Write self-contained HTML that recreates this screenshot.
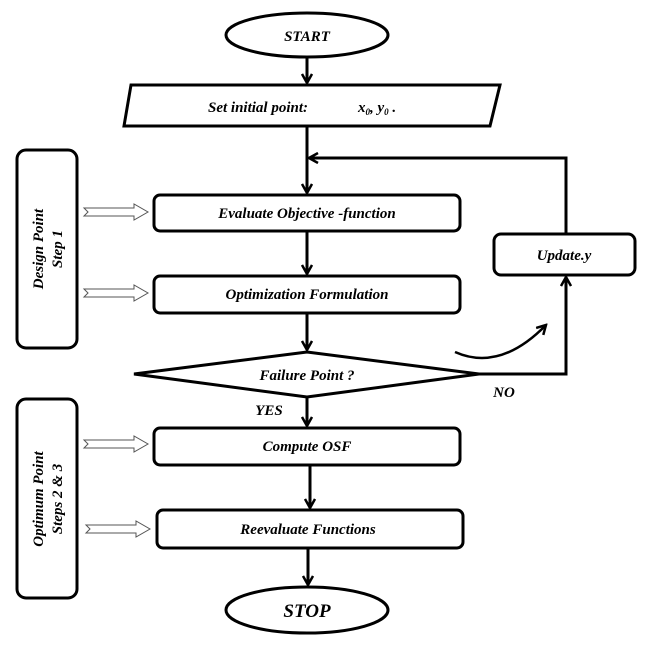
<!DOCTYPE html>
<html><head><meta charset="utf-8"><style>
body{margin:0;background:#fff}
svg{display:block}
text{font-family:"Liberation Serif",serif;font-weight:bold;font-style:italic;fill:#000}
</style></head><body>
<svg width="647" height="647" viewBox="0 0 647 647" xmlns="http://www.w3.org/2000/svg">
<defs>
<marker id="a" markerWidth="12" markerHeight="12" refX="10" refY="6" orient="auto" markerUnits="userSpaceOnUse">
<path d="M1,1 L10,6 L1,11" fill="none" stroke="#000" stroke-width="2.5"/>
</marker>
<g id="ha"><path d="M0,-4 L50,-4 L50,-8 L64,0 L50,8 L50,4 L0,4 L4,0 Z" fill="#fff" stroke="#555" stroke-width="1"/></g>
</defs>
<g fill="#fff" stroke="#000" stroke-width="3">
<ellipse cx="307" cy="35" rx="81" ry="22"/>
<polygon points="131,85 500,85 490,126 124,126"/>
<rect x="154" y="195" width="306" height="36" rx="6"/>
<rect x="154" y="276" width="306" height="37" rx="6"/>
<polygon points="134,374 307,352 479,374 307,397"/>
<rect x="154" y="428" width="306" height="37" rx="6"/>
<rect x="157" y="510" width="306" height="38" rx="6"/>
<ellipse cx="307" cy="610" rx="81" ry="23"/>
<rect x="494" y="234" width="141" height="41" rx="7"/>
<rect x="17" y="150" width="60" height="198" rx="9"/>
<rect x="17" y="399" width="60" height="199" rx="9"/>
</g>
<g stroke="#000" stroke-width="3" fill="none">
<line x1="307" y1="57" x2="307" y2="83" marker-end="url(#a)"/>
<line x1="307" y1="126" x2="307" y2="193" marker-end="url(#a)"/>
<polyline points="566,234 566,158 309,158" marker-end="url(#a)"/>
<line x1="307" y1="231" x2="307" y2="274" marker-end="url(#a)"/>
<line x1="307" y1="313" x2="307" y2="350" marker-end="url(#a)"/>
<line x1="307" y1="397" x2="307" y2="426" marker-end="url(#a)"/>
<line x1="310" y1="465" x2="310" y2="508" marker-end="url(#a)"/>
<line x1="308" y1="548" x2="308" y2="585" marker-end="url(#a)"/>
<polyline points="479,374 566,374 566,277" marker-end="url(#a)"/>
<path d="M455,352 Q500,372 546,325" stroke-width="2.5" marker-end="url(#a)"/>
</g>
<use href="#ha" x="84" y="212"/>
<use href="#ha" x="84" y="293"/>
<use href="#ha" x="84" y="444"/>
<use href="#ha" x="86" y="529"/>
<g font-size="15" text-anchor="middle">
<text x="307" y="41">START</text>
<text x="208" y="112" font-size="15" text-anchor="start">Set initial point:</text>
<text x="358" y="112" font-size="15" text-anchor="start" font-style="normal">x<tspan font-size="9" dy="3">0</tspan><tspan dy="-3">, y</tspan><tspan font-size="9" dy="3">0</tspan><tspan dy="-3"> .</tspan></text>
<text x="307" y="218">Evaluate Objective -function</text>
<text x="307" y="299">Optimization Formulation</text>
<text x="307" y="380">Failure Point ?</text>
<text x="307" y="451">Compute OSF</text>
<text x="308" y="534">Reevaluate Functions</text>
<text x="307" y="617" font-size="19">STOP</text>
<text x="564" y="260">Update.y</text>
<text x="504" y="397">NO</text>
<text x="269" y="415">YES</text>
<text transform="translate(43,249) rotate(-90)">Design Point</text>
<text transform="translate(62,249) rotate(-90)">Step  1</text>
<text transform="translate(43,499) rotate(-90)">Optimum Point</text>
<text transform="translate(62,499) rotate(-90)">Steps 2 &amp; 3</text>
</g>
</svg>
</body></html>
